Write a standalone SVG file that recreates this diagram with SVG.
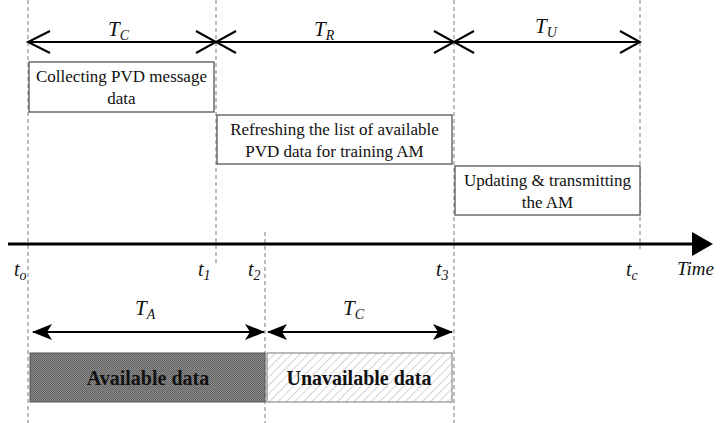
<svg xmlns="http://www.w3.org/2000/svg" width="723" height="423" viewBox="0 0 723 423" font-family="Liberation Serif, Times New Roman, serif">
  <defs>
    <style>
      .guide { stroke: #9a9a9a; stroke-width: 1.3; stroke-dasharray: 4 3; fill: none; }
      .span { stroke: #000; stroke-width: 2.2; fill: none; }
      .head { stroke: #000; stroke-width: 2; fill: none; }
      .box { fill: #fff; stroke: #555; stroke-width: 1.3; }
      .lbl { font-size: 17px; fill: #111; text-anchor: middle; }
      .sym { font-style: italic; fill: #111; }
      .bar { font-weight: bold; font-size: 20px; fill: #111; text-anchor: middle; }
    </style>
    <pattern id="hatch" width="6" height="6" patternUnits="userSpaceOnUse" patternTransform="rotate(45)">
      <rect width="6" height="6" fill="#fff"/>
      <line x1="0" y1="0" x2="0" y2="6" stroke="#b5b5b5" stroke-width="1.2"/>
    </pattern>
    <pattern id="dots" width="2" height="2" patternUnits="userSpaceOnUse">
      <rect width="2" height="2" fill="#909090"/>
      <rect width="1" height="1" fill="#5e5e5e"/>
      <rect x="1" y="1" width="1" height="1" fill="#5e5e5e"/>
    </pattern>
    <marker id="solid" viewBox="0 0 20 16" refX="19" refY="8" markerWidth="20" markerHeight="16" markerUnits="userSpaceOnUse" orient="auto-start-reverse">
      <path d="M0 0 L20 8 L0 16 L5 8 Z" fill="#000"/>
    </marker>
  </defs>

  <!-- vertical time guides -->
  <g id="guides">
    <line class="guide" x1="28" y1="0" x2="28" y2="423"/>
    <line class="guide" x1="216" y1="0" x2="216" y2="266"/>
    <line class="guide" x1="265" y1="232" x2="265" y2="423"/>
    <line class="guide" x1="454" y1="0" x2="454" y2="423"/>
    <line class="guide" x1="640" y1="0" x2="640" y2="250"/>
  </g>

  <g id="connectors">
    <!-- top interval arrows -->
    <line class="span" x1="28" y1="42" x2="640" y2="42"/>
    <polyline class="head" points="50,31 28,42 50,53"/>
    <polyline class="head" points="196,31 216,42 196,53"/>
    <polyline class="head" points="236,31 216,42 236,53"/>
    <polyline class="head" points="434,31 454,42 434,53"/>
    <polyline class="head" points="474,31 454,42 474,53"/>
    <polyline class="head" points="620,31 640,42 620,53"/>
    <!-- time axis -->
    <line x1="8" y1="244" x2="695" y2="244" stroke="#000" stroke-width="3.2"/>
    <path d="M692 232 L713 244 L692 256 Z" fill="#000"/>
    <!-- bottom interval arrows -->
    <line x1="33" y1="332" x2="264" y2="332" stroke="#000" stroke-width="2" marker-start="url(#solid)" marker-end="url(#solid)"/>
    <line x1="268" y1="332" x2="452" y2="332" stroke="#000" stroke-width="2" marker-start="url(#solid)" marker-end="url(#solid)"/>
  </g>

  <!-- interval labels -->
  <g id="interval-labels">
    <text class="sym" x="108" y="36" font-size="21">T<tspan font-size="14" dy="4">C</tspan></text>
    <text class="sym" x="314" y="36" font-size="21">T<tspan font-size="14" dy="4">R</tspan></text>
    <text class="sym" x="535" y="33" font-size="21">T<tspan font-size="14" dy="4">U</tspan></text>
    <text class="sym" x="135" y="315" font-size="21">T<tspan font-size="14" dy="4">A</tspan></text>
    <text class="sym" x="343" y="315" font-size="21">T<tspan font-size="14" dy="4">C</tspan></text>
  </g>

  <g id="node-collect">
    <rect class="box" x="29" y="62" width="185" height="50"/>
    <text class="lbl" x="121.5" y="82">Collecting PVD message</text>
    <text class="lbl" x="121.5" y="104">data</text>
  </g>

  <g id="node-refresh">
    <rect class="box" x="217" y="115" width="235" height="49"/>
    <text class="lbl" x="334.5" y="135">Refreshing the list of available</text>
    <text class="lbl" x="334.5" y="157">PVD data for training AM</text>
  </g>

  <g id="node-update">
    <rect class="box" x="455" y="166" width="185" height="49"/>
    <text class="lbl" x="547.5" y="186">Updating &amp; transmitting</text>
    <text class="lbl" x="547.5" y="208">the AM</text>
  </g>

  <!-- time instants -->
  <g id="instants">
    <text class="sym" x="14" y="276" font-size="20">t<tspan font-size="14" dy="4">o</tspan></text>
    <text class="sym" x="198" y="276" font-size="20">t<tspan font-size="14" dy="4">1</tspan></text>
    <text class="sym" x="248" y="276" font-size="20">t<tspan font-size="14" dy="4">2</tspan></text>
    <text class="sym" x="436" y="276" font-size="20">t<tspan font-size="14" dy="4">3</tspan></text>
    <text class="sym" x="626" y="276" font-size="20">t<tspan font-size="14" dy="4">c</tspan></text>
    <text class="sym" x="677" y="275" font-size="19">Time</text>
  </g>

  <g id="node-available">
    <rect x="30" y="353" width="235" height="49" fill="url(#dots)" stroke="#555" stroke-width="1"/>
    <text class="bar" x="148" y="385">Available data</text>
  </g>

  <g id="node-unavailable">
    <rect x="267" y="353" width="185" height="49" fill="url(#hatch)" stroke="#777" stroke-width="1"/>
    <text class="bar" x="359" y="385">Unavailable data</text>
  </g>
</svg>
